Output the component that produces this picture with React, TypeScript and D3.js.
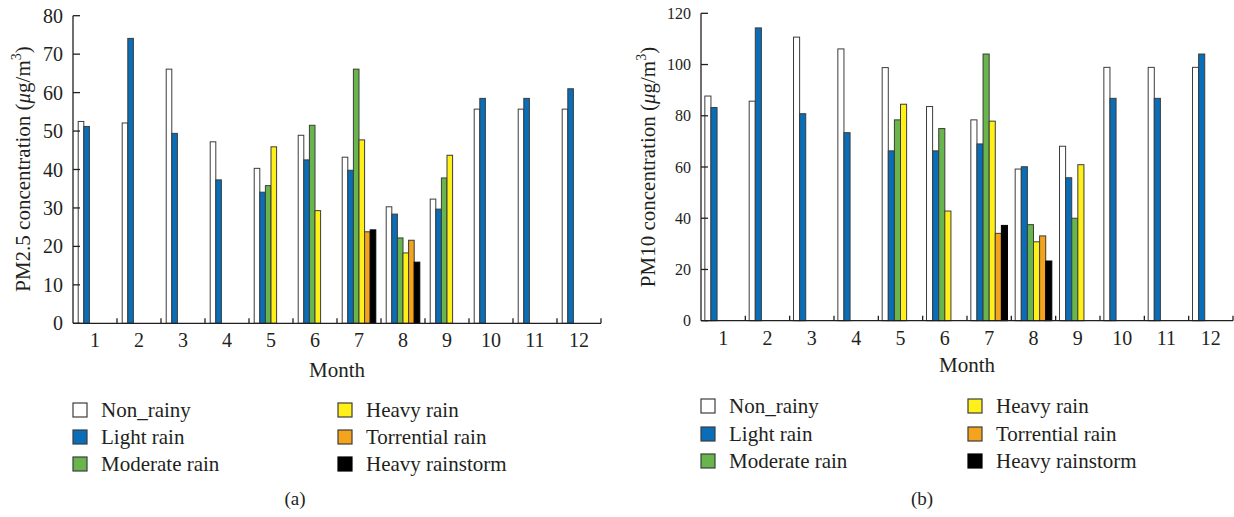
import React from "react";
import * as d3 from "d3";

const months = ["1", "2", "3", "4", "5", "6", "7", "8", "9", "10", "11", "12"];
const seriesNames = ["Non_rainy", "Light rain", "Moderate rain", "Heavy rain", "Torrential rain", "Heavy rainstorm"];
const seriesColors = ["#ffffff", "#0a6db7", "#67b54c", "#fff01a", "#f4a31c", "#000000"];

// PM2.5 (a)
const nonRainyA = [52.5, 52.1, 66.1, 47.2, 40.3, 48.9, 43.2, 30.3, 32.3, 55.7, 55.7, 55.7];
const lightA = [51.2, 74.1, 49.4, 37.3, 34.1, 42.5, 39.8, 28.4, 29.7, 58.5, 58.5, 61.0];
const moderateA = [null, null, null, null, 35.8, 51.5, 66.1, 22.2, 37.8, null, null, null];
const heavyA = [null, null, null, null, 45.9, 29.3, 47.7, 18.3, 43.7, null, null, null];
const torrentialA = [null, null, null, null, null, null, 23.8, 21.6, null, null, null, null];
const rainstormA = [null, null, null, null, null, null, 24.3, 15.9, null, null, null, null];
const ticksA = [0, 10, 20, 30, 40, 50, 60, 70, 80];

// PM10 (b)
const nonRainyB = [87.7, 85.7, 110.7, 106.1, 98.8, 83.6, 78.4, 59.2, 68.1, 98.9, 98.9, 98.9];
const lightB = [83.2, 114.3, 80.8, 73.4, 66.3, 66.3, 69.0, 60.1, 55.8, 86.8, 86.8, 104.1];
const moderateB = [null, null, null, null, 78.4, 75.0, 104.1, 37.5, 40.0, null, null, null];
const heavyB = [null, null, null, null, 84.5, 42.8, 77.9, 30.8, 60.9, null, null, null];
const torrentialB = [null, null, null, null, null, null, 34.1, 33.1, null, null, null, null];
const rainstormB = [null, null, null, null, null, null, 37.2, 23.3, null, null, null, null];
const ticksB = [0, 20, 40, 60, 80, 100, 120];

const FONT = "'Liberation Serif', 'Times New Roman', serif";
const TXT = "#231f20";

type PanelProps = {
  data: (number | null)[][];
  ticks: number[];
  maxY: number;
  left: number;
  right: number;
  top: number;
  bottom: number;
  pad: number;
  yLabelPrefix: string;
  yLabelX: number;
  yLabelY: number;
  tickFont: number;
  monthY: number;
  legend: { x1: number; x2: number; rows: number[]; textDx: number };
  caption: string;
  captionX: number;
};

function Panel(p: PanelProps) {
  const x = d3.scaleBand<string>().domain(months).range([p.left, p.right]).padding(0);
  const xs = d3
    .scaleBand<string>()
    .domain(seriesNames)
    .range([0, x.bandwidth()])
    .paddingInner(0)
    .paddingOuter(p.pad);
  const y = d3.scaleLinear().domain([0, p.maxY]).range([p.bottom, p.top]);
  const boundaries = d3.range(1, 13).map((i) => p.left + i * x.bandwidth());

  return (
    <g>
      {p.data.map((vals, si) =>
        vals.map((v, mi) =>
          v == null ? null : (
            <rect
              key={`${si}-${mi}`}
              x={(x(months[mi]) as number) + (xs(seriesNames[si]) as number)}
              y={y(v)}
              width={xs.bandwidth()}
              height={y(0) - y(v)}
              fill={seriesColors[si]}
              stroke={si === 5 ? "#000" : "#3c3c3c"}
              strokeWidth={1}
            />
          )
        )
      )}
      <line x1={p.left} x2={p.left} y1={y(p.maxY)} y2={y(0)} stroke={TXT} strokeWidth={1.3} />
      <line x1={p.left} x2={p.right} y1={y(0)} y2={y(0)} stroke={TXT} strokeWidth={1.3} />
      {p.ticks.map((t) => (
        <g key={t}>
          <line x1={p.left} x2={p.left + 7} y1={y(t)} y2={y(t)} stroke={TXT} strokeWidth={1.3} />
          <text
            x={p.left - 10}
            y={y(t)}
            textAnchor="end"
            dominantBaseline="central"
            fontSize={p.tickFont}
            fill={TXT}
            fontFamily={FONT}
          >
            {t}
          </text>
        </g>
      ))}
      {boundaries.map((bx, i) => (
        <line key={i} x1={bx} x2={bx} y1={y(0)} y2={y(0) - 5} stroke={TXT} strokeWidth={1.3} />
      ))}
      {months.map((m) => (
        <text
          key={m}
          x={(x(m) as number) + x.bandwidth() / 2}
          y={y(0) + 24}
          textAnchor="middle"
          fontSize={20}
          fill={TXT}
          fontFamily={FONT}
        >
          {m}
        </text>
      ))}
      <text
        x={(p.left + p.right) / 2}
        y={p.monthY}
        textAnchor="middle"
        fontSize={21}
        fill={TXT}
        fontFamily={FONT}
      >
        Month
      </text>
      <text
        transform={`translate(${p.yLabelX},${p.yLabelY}) rotate(-90)`}
        textAnchor="middle"
        dominantBaseline="central"
        fontSize={21}
        fill={TXT}
        fontFamily={FONT}
      >
        {p.yLabelPrefix} concentration (
        <tspan fontStyle="italic">μ</tspan>g/m
        <tspan fontSize={14} dy={-7}>3</tspan>
        <tspan dy={7}>)</tspan>
      </text>
      {seriesNames.map((s, i) => {
        const col = i < 3 ? 0 : 1;
        const row = i % 3;
        const lx = col === 0 ? p.legend.x1 : p.legend.x2;
        const ly = p.legend.rows[row];
        return (
          <g key={s}>
            <rect
              x={lx}
              y={ly - 7}
              width={14}
              height={14}
              fill={seriesColors[i]}
              stroke={i === 5 ? "#000" : "#3c3c3c"}
              strokeWidth={1.2}
            />
            <text
              x={lx + p.legend.textDx}
              y={ly}
              dominantBaseline="central"
              fontSize={21}
              fill={TXT}
              fontFamily={FONT}
            >
              {s}
            </text>
          </g>
        );
      })}
      <text x={p.captionX} y={505} textAnchor="middle" fontSize={19} fill={TXT} fontFamily={FONT}>
        {p.caption}
      </text>
    </g>
  );
}

export default function App() {
  const dataA = [nonRainyA, lightA, moderateA, heavyA, torrentialA, rainstormA];
  const dataB = [nonRainyB, lightB, moderateB, heavyB, torrentialB, rainstormB];
  return (
    <svg
      width={1234}
      height={517}
      style={{ position: "absolute", left: 0, top: 0, background: "#fff" }}
    >
      <Panel
        data={dataA}
        ticks={ticksA}
        maxY={80}
        left={73}
        right={601}
        top={15.7}
        bottom={323.3}
        pad={0.93}
        yLabelPrefix="PM2.5"
        yLabelX={23}
        yLabelY={169}
        tickFont={20}
        monthY={377}
        legend={{ x1: 73, x2: 338, rows: [410, 437, 464], textDx: 28 }}
        caption="(a)"
        captionX={295}
      />
      <Panel
        data={dataB}
        ticks={ticksB}
        maxY={120}
        left={701}
        right={1233}
        top={13.3}
        bottom={320.7}
        pad={0.63}
        yLabelPrefix="PM10"
        yLabelX={648}
        yLabelY={167}
        tickFont={16}
        monthY={372}
        legend={{ x1: 701, x2: 968, rows: [406, 434, 461], textDx: 28 }}
        caption="(b)"
        captionX={922}
      />
    </svg>
  );
}
